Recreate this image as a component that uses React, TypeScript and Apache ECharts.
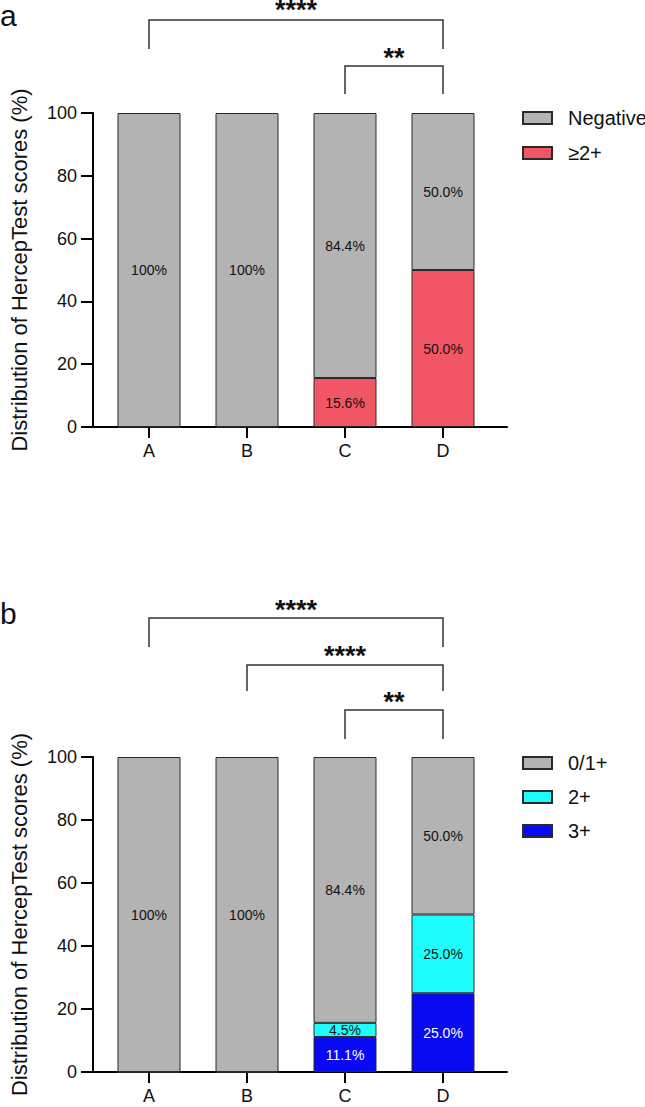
import React, { useEffect, useRef } from "react";
import * as echarts from "echarts";

// ---------- data ----------
const categories = ["A", "B", "C", "D"];
const yTicks = { min: 0, max: 100, interval: 20 };

// panel a
const negativeA = [100, 100, 84.4, 50];
const atLeast2A = [0, 0, 15.6, 50];
// panel b
const score01B = [100, 100, 84.4, 50];
const score2B = [0, 0, 4.5, 25];
const score3B = [0, 0, 11.1, 25];

// significance comparisons
const sigA = [
  { from: "A", to: "D", text: "****" },
  { from: "C", to: "D", text: "**" },
];
const sigB = [
  { from: "A", to: "D", text: "****" },
  { from: "B", to: "D", text: "****" },
  { from: "C", to: "D", text: "**" },
];

// ---------- layout / style ----------
const FONT = "'Liberation Sans', Arial, Helvetica, sans-serif";
const GREY = "#b3b3b3";
const RED = "#f25566";
const CYAN = "#1ffcfc";
const BLUE = "#0a0af2";
const BORDER = "#2a2a2a";
const TEXT = "#111111";

// bracket levels (pixel y) for each panel: [top, bottom, starCenterY]
const levelsA = [
  [20, 49, 10],
  [66, 94, 58],
];
const levelsB = [
  [618, 647, 610],
  [665, 691, 656],
  [710, 739, 702],
];

const fmt = (p: any) => {
  const v = p.value;
  if (!v) return "";
  return v === 100 ? "100%" : v.toFixed(1) + "%";
};

function bar(
  name: string,
  values: number[],
  color: string,
  labelColor: string,
  axis: number,
  stack: string
) {
  return {
    type: "bar",
    name,
    xAxisIndex: axis,
    yAxisIndex: axis,
    stack,
    barWidth: 63,
    data: values,
    itemStyle: { color, borderColor: BORDER, borderWidth: 1 },
    label: {
      show: true,
      position: "inside",
      color: labelColor,
      fontSize: 14,
      fontFamily: FONT,
      formatter: fmt,
    },
  };
}

// frame axes (full width line), category axes (bars)
function frameX(gridIndex: number) {
  return {
    type: "value",
    gridIndex,
    min: 0,
    max: 1,
    splitLine: { show: false },
    axisLine: { show: true, lineStyle: { color: "#000", width: 2 } },
    axisTick: { show: false },
    axisLabel: { show: false },
  };
}
function catX(gridIndex: number) {
  return {
    type: "category",
    gridIndex,
    data: categories,
    boundaryGap: true,
    axisLine: { show: false },
    axisTick: {
      show: true,
      alignWithLabel: true,
      interval: 0,
      length: 11,
      lineStyle: { color: "#000", width: 2 },
    },
    axisLabel: { fontSize: 18, color: TEXT, fontFamily: FONT, margin: 15, interval: 0 },
  };
}

function yAxis(gridIndex: number, visible: boolean) {
  return {
    type: "value",
    gridIndex,
    min: yTicks.min,
    max: yTicks.max,
    interval: yTicks.interval,
    show: visible,
    splitLine: { show: false },
    axisLine: { show: true, lineStyle: { color: "#000", width: 2 } },
    axisTick: { show: true, length: 12, lineStyle: { color: "#000", width: 2 } },
    axisLabel: { fontSize: 18, color: TEXT, fontFamily: FONT, margin: 16 },
    name: visible ? "Distribution of HercepTest scores (%)" : "",
    nameLocation: "middle",
    nameGap: 63,
    nameTextStyle: { fontSize: 22, color: TEXT, fontFamily: FONT },
  };
}

function legend(data: string[], top: number, gap: number) {
  return {
    data,
    orient: "vertical",
    left: 522,
    top,
    padding: 0,
    icon: "rect",
    itemWidth: 29,
    itemHeight: 12,
    itemGap: gap,
    textStyle: {
      fontSize: 20,
      color: TEXT,
      fontFamily: FONT,
      padding: [0, 0, 0, 11],
    },
  };
}

export default function App() {
  const ref = useRef<HTMLDivElement>(null);
  useEffect(() => {
    if (!ref.current) return;
    const chart = echarts.init(ref.current, null, { renderer: "svg" });
    chart.setOption({
      animation: false,
      textStyle: { fontFamily: FONT },
      grid: [
        { left: 85, width: 422, top: 113, height: 314 },
        { left: 100, width: 392, top: 113, height: 314 },
        { left: 85, width: 422, top: 757, height: 315 },
        { left: 100, width: 392, top: 757, height: 315 },
      ],
      xAxis: [frameX(0), catX(1), frameX(2), catX(3)],
      yAxis: [yAxis(0, true), yAxis(1, false), yAxis(2, true), yAxis(3, false)],
      legend: [
        legend(["Negative", "≥2+"], 108, 15),
        legend(["0/1+", "2+", "3+"], 753, 14),
      ],
      series: [
        bar("≥2+", atLeast2A, RED, TEXT, 1, "a"),
        bar("Negative", negativeA, GREY, TEXT, 1, "a"),
        bar("3+", score3B, BLUE, "#ffffff", 3, "b"),
        bar("2+", score2B, CYAN, TEXT, 3, "b"),
        bar("0/1+", score01B, GREY, TEXT, 3, "b"),
      ],
    });

    const graphics: any[] = [];
    const addBrackets = (sig: any[], levels: number[][], axis: number) => {
      sig.forEach((s, k) => {
        const x1 = chart.convertToPixel({ xAxisIndex: axis }, s.from) as number;
        const x2 = chart.convertToPixel({ xAxisIndex: axis }, s.to) as number;
        const [top, bottom, sy] = levels[k];
        graphics.push({
          type: "polyline",
          shape: { points: [[x1, bottom], [x1, top], [x2, top], [x2, bottom]] },
          style: { stroke: "#333", lineWidth: 1.5, fill: null },
        });
        graphics.push({
          type: "text",
          x: (x1 + x2) / 2,
          y: sy,
          style: {
            text: s.text,
            fontSize: 27,
            fontWeight: "bold",
            fontFamily: FONT,
            fill: "#111",
            align: "center",
            verticalAlign: "middle",
          },
        });
      });
    };
    addBrackets(sigA, levelsA, 1);
    addBrackets(sigB, levelsB, 3);
    graphics.push({
      type: "text",
      x: 0,
      y: 15,
      style: { text: "a", fontSize: 30, fontFamily: FONT, fill: "#111", verticalAlign: "middle" },
    });
    graphics.push({
      type: "text",
      x: 0,
      y: 613,
      style: { text: "b", fontSize: 30, fontFamily: FONT, fill: "#111", verticalAlign: "middle" },
    });
    chart.setOption({ graphic: graphics });
    return () => chart.dispose();
  }, []);
  return (
    <div
      ref={ref}
      style={{ position: "absolute", left: 0, top: 0, width: 645, height: 1107, background: "#fff" }}
    />
  );
}
